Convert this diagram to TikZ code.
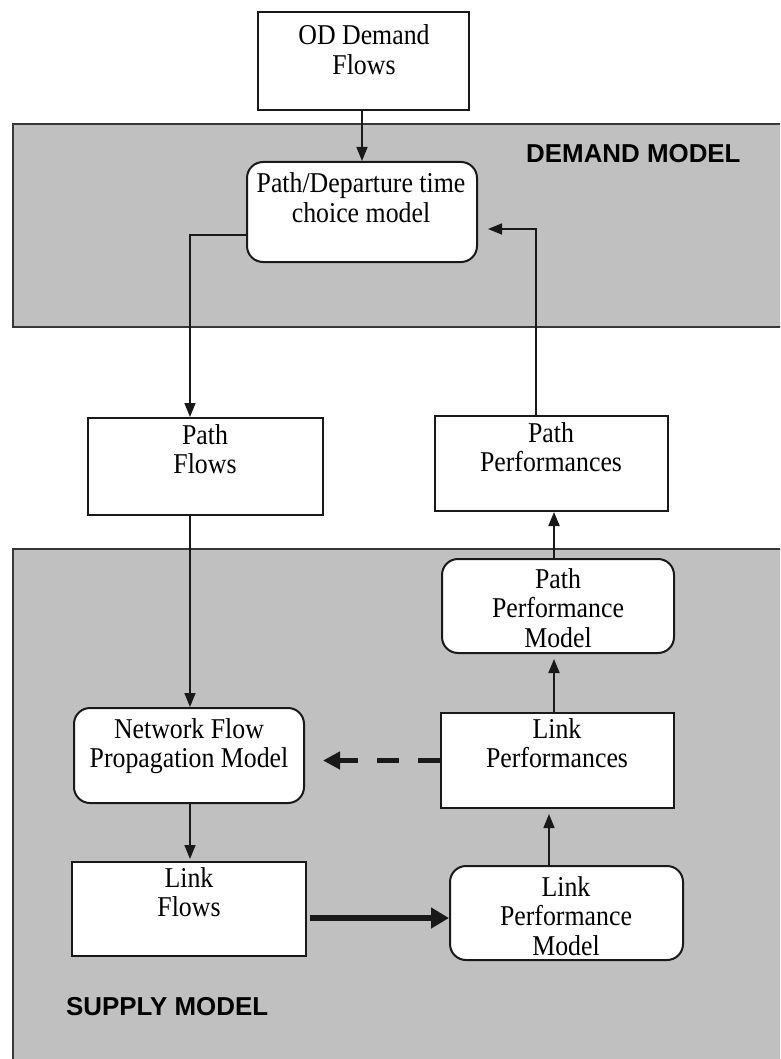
\documentclass[tikz,border=0pt]{standalone}
\usepackage{fontspec}
\setmainfont{Liberation Serif}[FakeStretch=0.9]
\newfontfamily\lsans{Liberation Sans}
\usetikzlibrary{arrows.meta}
\definecolor{panel}{RGB}{192,192,192}
\definecolor{ink}{RGB}{25,25,25}
\definecolor{panelline}{RGB}{55,55,55}
\newcommand\mlines[1]{\begin{tabular}[t]{@{}c@{}}#1\end{tabular}}
\begin{document}
\begin{tikzpicture}[x=1pt,y=-1pt,
  font=\fontsize{28.7}{29.5}\selectfont,
  panelbox/.style={fill=panel,draw=panelline,line width=1.8pt},
  box/.style={draw=ink,line width=2pt,fill=white,inner sep=0pt},
  rbox/.style={box,rounded corners=16pt},
  txt/.style={anchor=base,inner sep=0pt},
  lbl/.style={anchor=base west,inner sep=0pt,font=\fontsize{25.9}{30}\lsans\bfseries},
  conn/.style={draw=ink,line width=1.6pt},
  arr/.style={conn,-{Triangle[length=14pt,width=11pt]}},
  dasharr/.style={draw=ink,line width=5pt,dash pattern=on 22pt off 19pt,-{Triangle[length=17pt,width=17pt]}},
  thickarr/.style={draw=ink,line width=6pt,-{Triangle[length=18pt,width=20pt]}}
]
\clip (0,0) rectangle (780,1059);
\fill[white] (0,0) rectangle (780,1059);

% panels
\path[panelbox] (13,124) rectangle (800,327);
\path[panelbox] (13,549) rectangle (800,1080);
\node[lbl] (dem) at (526,163) {DEMAND MODEL};
\node[lbl] (sup) at (66,1015) {SUPPLY MODEL};

% boxes
\node[box, minimum width=211pt, minimum height=98pt] (od) at (363.5,61) {};
\node[rbox, minimum width=230pt, minimum height=100pt] (pdc) at (362,212) {};
\node[box, minimum width=235pt, minimum height=97pt] (pf) at (205.5,466.5) {};
\node[box, minimum width=233pt, minimum height=95pt] (pp) at (551.5,463.5) {};
\node[rbox, minimum width=232pt, minimum height=94pt] (ppm) at (558,606) {};
\node[rbox, minimum width=230pt, minimum height=95pt] (nfpm) at (189,755.5) {};
\node[box, minimum width=233pt, minimum height=95pt] (lp) at (557.5,760.5) {};
\node[box, minimum width=234pt, minimum height=94pt] (lf) at (189,909) {};
\node[rbox, minimum width=233pt, minimum height=94pt] (lpm) at (566.5,913) {};

% texts
\node[txt] (tod) at (364,45) {\mlines{OD Demand\\Flows}};
\node[txt] (tpdc) at (361,193) {\mlines{Path/Departure time\\choice model}};
\node[txt] (tpf) at (205,444) {\mlines{Path\\Flows}};
\node[txt] (tpp) at (551,442) {\mlines{Path\\Performances}};
\node[txt] (tppm) at (558,588) {\mlines{Path\\Performance\\Model}};
\node[txt] (tnfpm) at (189,738) {\mlines{Network Flow\\Propagation Model}};
\node[txt] (tlp) at (557,738) {\mlines{Link\\Performances}};
\node[txt] (tlf) at (189,887) {\mlines{Link\\Flows}};
\node[txt] (tlpm) at (566,896) {\mlines{Link\\Performance\\Model}};

% helper coordinates
\coordinate (k1) at (190,235);
\coordinate (k2) at (536,229);
\coordinate (k3) at (0,918);
\coordinate (k4) at (554,0);
\coordinate (k5) at (549,0);

% connectors
\draw[arr] (od.south -| 362,0) -- (pdc.north -| 362,0);
\draw[arr] (k1 -| pdc.west) -| (k1 |- pf.north);
\draw[arr] (k2 |- pp.north) |- ([xshift=10pt]k2 -| pdc.east);
\draw[arr,line width=2pt] (k4 |- ppm.north) -- (k4 |- pp.south);
\draw[arr] (k1 |- pf.south) -- (k1 |- nfpm.north);
\draw[arr,line width=2pt,shorten >=5pt] (k4 |- lp.north) -- (k4 |- ppm.south);
\draw[arr,shorten >=2pt] (k1 |- nfpm.south) -- (k1 |- lf.north);
\draw[dasharr,shorten >=18pt] (lp.west) -- (lp.west -| nfpm.east);
\draw[thickarr,shorten <=3pt] (k3 -| lf.east) -- (k3 -| lpm.west);
\draw[arr,shorten >=5pt] (k5 |- lpm.north) -- (k5 |- lp.south);
\end{tikzpicture}
\end{document}
